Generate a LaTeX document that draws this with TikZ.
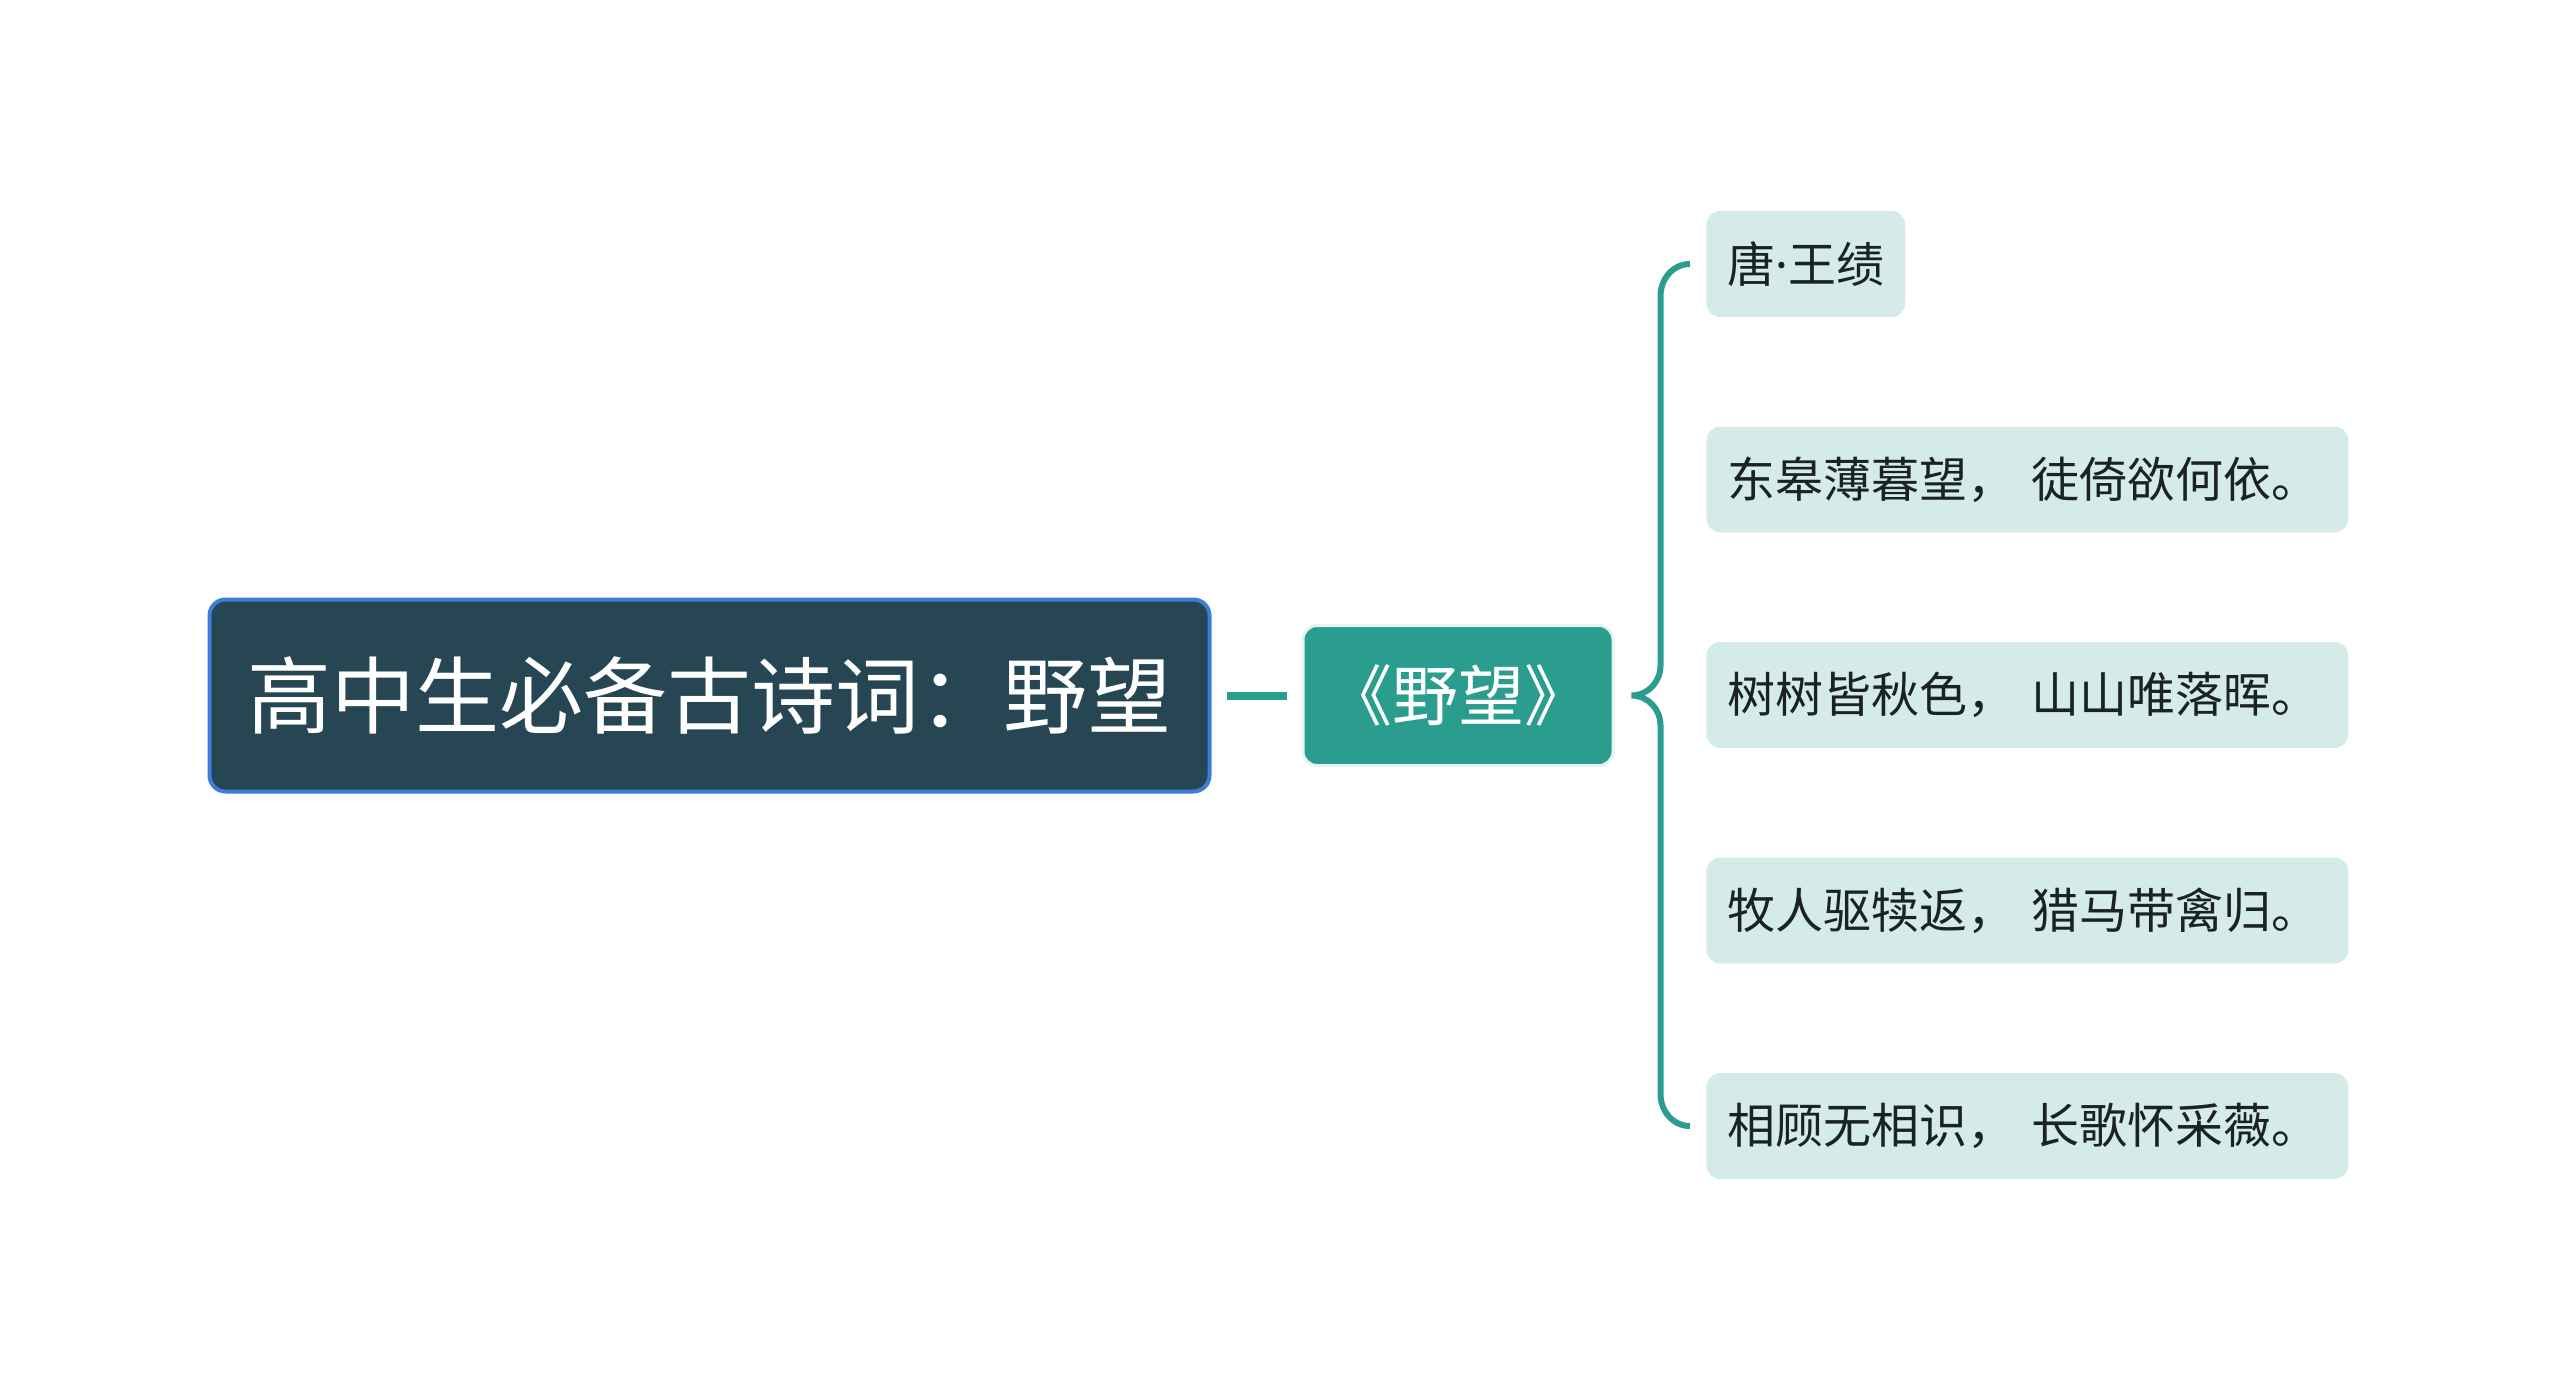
\documentclass[tikz,border=0pt]{standalone}
\usepackage{fontspec}
\setmainfont{Noto Sans CJK SC}
\newfontfamily\latinfont{Noto Sans}
\usepackage{xcolor}
\usetikzlibrary{positioning}
\definecolor{rootfill}{HTML}{264653}
\definecolor{rootline}{HTML}{3B7DD8}
\definecolor{poemfill}{HTML}{2A9D8F}
\definecolor{leaffill}{HTML}{D5EBE8}
\definecolor{leaftext}{HTML}{1A2222}

\begin{document}
\begin{tikzpicture}[x=0.5pt, y=-0.5pt,
    rootbox/.style={draw=rootline, line width=2pt, fill=rootfill, rounded corners=8pt, minimum width=500pt, minimum height=96pt, text=white, font=\fontsize{42}{50}\selectfont},
    poembox/.style={draw=poemfill!12, line width=1.5pt, fill=poemfill, rounded corners=7pt, minimum width=155pt, minimum height=70pt, text=white, font=\fontsize{33}{40}\selectfont},
    leafbox/.style={fill=leaffill, rounded corners=7pt, minimum height=53pt, inner xsep=10.5pt, anchor=west, text=leaftext, font=\fontsize{24}{29}\selectfont},
    longleaf/.style={leafbox, text width=300pt, align=left},
    link/.style={draw=poemfill, line width=4pt},
    brace/.style={draw=poemfill, line width=3pt}]

    \useasboundingbox (0,0) rectangle (2560,1391);

    % Title
    \node[rootbox] (root) at (709.5,695.5) {高中生必备古诗词：野望};

    % Poem
    \node[poembox, right=45pt of root] (poem) {《野望》};

    % Author and verses
    \node[leafbox] (author) at (1706,264) {唐{\latinfont ·}王绩};
    \node[longleaf] (verse1) at (1706,479.5) {东皋薄暮望， 徒倚欲何依。};
    \node[longleaf] (verse2) at (1706,695) {树树皆秋色， 山山唯落晖。};
    \node[longleaf] (verse3) at (1706,910.5) {牧人驱犊返， 猎马带禽归。};
    \node[longleaf] (verse4) at (1706,1126) {相顾无相识， 长歌怀采薇。};

    % Connections
    \draw[link, shorten <=7.5pt, shorten >=7.5pt] (root) -- (poem);
    \coordinate (tip) at ([xshift=8.5pt]poem.east);
    \coordinate (spine) at ([xshift=14.5pt]tip);
    \coordinate (topend) at ([xshift=-8pt]author.west);
    \coordinate (botend) at ([xshift=-8pt]verse4.west);
    \coordinate (topcorner) at (spine |- topend);
    \coordinate (botcorner) at (spine |- botend);
    \draw[brace] (topend) to[out=180,in=90] ([yshift=-16pt]topcorner)
        -- ([yshift=15pt]spine) to[out=-90,in=0] (tip)
        to[out=0,in=90] ([yshift=-15pt]spine)
        -- ([yshift=16pt]botcorner) to[out=-90,in=180] (botend);
\end{tikzpicture}
\end{document}
